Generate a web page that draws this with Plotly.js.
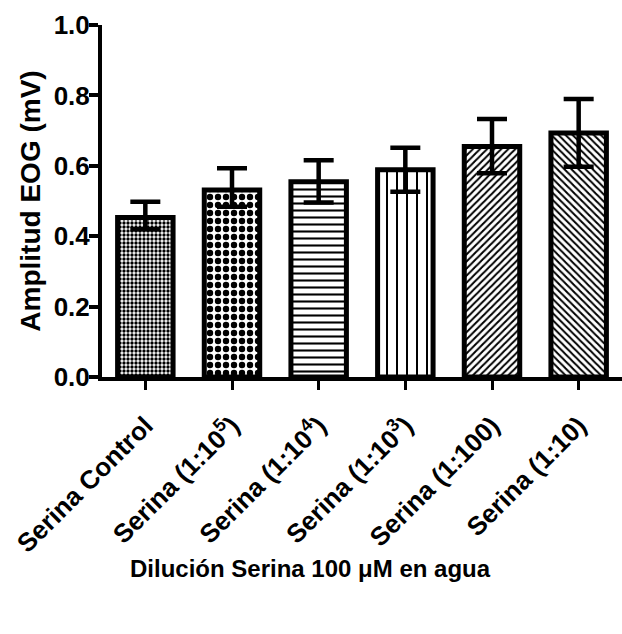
<!DOCTYPE html>
<html>
<head>
<meta charset="utf-8">
<script src="https://cdn.plot.ly/plotly-3.0.1.min.js"></script>
<style>html,body{margin:0;padding:0;background:#fff;}#chart{width:622px;height:634px;}</style>
</head>
<body>
<div id="chart"></div>
<script>
// Data
const categories = ["Serina Control", "Serina (1:10<sup>5</sup>)", "Serina (1:10<sup>4</sup>)", "Serina (1:10<sup>3</sup>)", "Serina (1:100)", "Serina (1:10)"];
const means = [0.453, 0.531, 0.555, 0.589, 0.655, 0.693];
const errPlus = [0.045, 0.062, 0.061, 0.062, 0.078, 0.097];
const errMinus = [0.033, 0.047, 0.059, 0.063, 0.076, 0.096];
const yTicks = [0, 0.2, 0.4, 0.6, 0.8, 1.0];

// Styles
const patternShapes = [".", ".", "-", "|", "/", "\\"];
const patternSizes = [4, 8, 7, 10, 5, 5];
const patternSolidity = [0.55, 0.5, 0.3, 0.2, 0.4, 0.4];

const FONT = "Liberation Sans, Arial, sans-serif";

const trace = {
  type: "bar",
  x: categories.map((c, i) => i),
  y: means,
  width: 0.64,
  marker: {
    color: "white",
    line: {color: "black", width: 5},
    pattern: {
      shape: patternShapes,
      size: patternSizes,
      solidity: patternSolidity,
      fgcolor: "black",
      bgcolor: "white",
      fillmode: "replace"
    }
  },
  error_y: {
    type: "data",
    symmetric: false,
    array: errPlus,
    arrayminus: errMinus,
    color: "black",
    thickness: 4.5,
    width: 15
  },
  hoverinfo: "skip"
};

const layout = {
  width: 622,
  height: 634,
  margin: {l: 102, r: 0, t: 25, b: 257},
  paper_bgcolor: "white",
  plot_bgcolor: "white",
  showlegend: false,
  font: {family: FONT, color: "black"},
  xaxis: {
    range: [-0.5, 5.5],
    tickmode: "array",
    tickvals: categories.map((c, i) => i),
    ticktext: categories,
    tickangle: -45,
    tickfont: {family: FONT, size: 26, color: "black", weight: "bold"},
    ticklabelstandoff: 10,
    showline: true,
    linewidth: 4,
    linecolor: "black",
    ticks: "outside",
    ticklen: 9,
    tickwidth: 3,
    tickcolor: "black",
    showgrid: false,
    zeroline: false,
    fixedrange: true
  },
  yaxis: {
    range: [0, 1],
    tickmode: "array",
    tickvals: yTicks,
    ticktext: yTicks.map(v => v.toFixed(1)),
    tickfont: {family: FONT, size: 26, color: "black", weight: "bold"},
    ticklabelstandoff: -6,
    showline: true,
    linewidth: 4,
    linecolor: "black",
    ticks: "outside",
    ticklen: 9,
    tickwidth: 4,
    tickcolor: "black",
    showgrid: false,
    zeroline: false,
    fixedrange: true,
    title: {text: "<b>Amplitud EOG (mV)</b>", font: {family: FONT, size: 28, color: "black"}, standoff: 6}
  },
  annotations: [{
    text: "<b>Dilución Serina 100 μM en agua</b>",
    xref: "paper", yref: "paper",
    x: 0.4, y: -0.545,
    xanchor: "center", yanchor: "middle",
    showarrow: false,
    font: {family: FONT, size: 24, color: "black"}
  }]
};

Plotly.newPlot("chart", [trace], layout, {displayModeBar: false, staticPlot: true});
</script>
</body>
</html>
